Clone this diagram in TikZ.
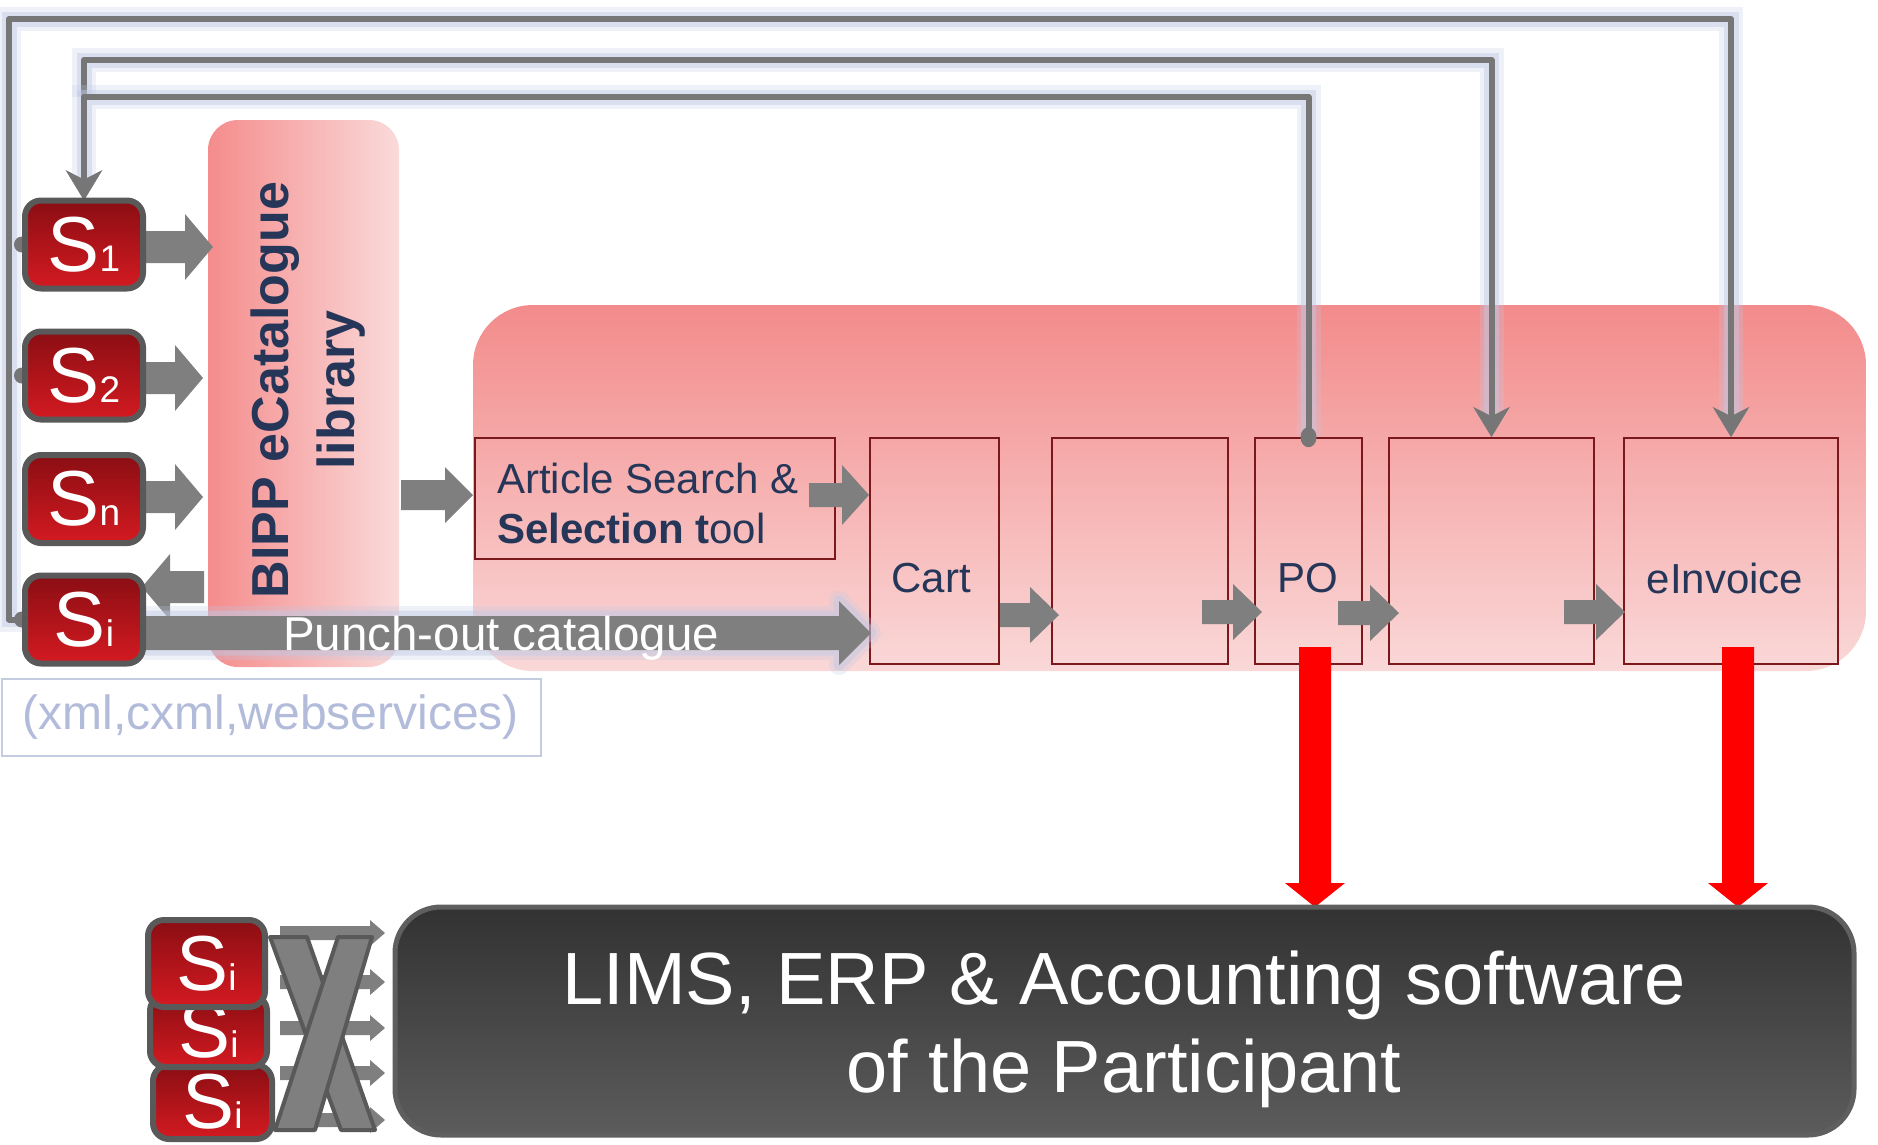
\documentclass[tikz,border=0pt]{standalone}
\usepackage{fontspec}
\setmainfont{Liberation Sans}
\usetikzlibrary{arrows.meta}
\definecolor{agray}{RGB}{127,127,127}
\definecolor{lgray}{RGB}{118,118,118}
\definecolor{xdark}{RGB}{89,89,89}
\definecolor{glow}{RGB}{190,201,228}
\definecolor{navy}{RGB}{37,54,89}
\definecolor{boxred}{RGB}{122,24,28}
\definecolor{ctop}{RGB}{243,139,139}
\definecolor{cbot}{RGB}{250,216,216}
\definecolor{lleft}{RGB}{245,140,140}
\definecolor{lright}{RGB}{250,218,218}
\definecolor{sredtop}{RGB}{138,14,19}
\definecolor{sredbot}{RGB}{212,26,33}
\definecolor{sborder}{RGB}{89,89,89}
\definecolor{dtop}{RGB}{50,50,50}
\definecolor{dbot}{RGB}{92,92,92}
\definecolor{dborder}{RGB}{95,95,95}
\definecolor{xmltext}{RGB}{178,188,218}
\definecolor{xmlborder}{RGB}{196,204,226}
\newcommand\Slab[1]{{\fontsize{78}{78}\selectfont S}{\fontsize{37}{37}\selectfont #1}}
\newcommand\barrow[7][]{\path[fill=agray,#1] ({#2},{#4-#5}) -- ({#3-(#7)},{#4-#5}) -- ({#3-(#7)},{#4-#6}) -- ({#3},{#4}) -- ({#3-(#7)},{#4+#6}) -- ({#3-(#7)},{#4+#5}) -- ({#2},{#4+#5}) -- cycle;}
\tikzset{
  sbox/.style={rectangle, rounded corners=16pt, draw=sborder, line width=6pt,
    top color=sredtop, bottom color=sredbot, minimum width=118pt, minimum height=88pt,
    inner sep=0pt, text=white},
  pbox/.style={rectangle, draw=boxred, line width=1.6pt, inner sep=0pt},
  lbl/.style={text=navy, font=\fontsize{42}{50}\selectfont, inner sep=0pt},
  conn/.style={draw=lgray, line width=6pt, line join=round,
    preaction={draw=glow, line width=24pt, opacity=.25},
    preaction={draw=glow, line width=15pt, opacity=.45}},
  tip/.style={-{Stealth[length=30pt,width=36pt,inset=9pt]}},
}
\begin{document}
\begin{tikzpicture}[x=1pt,y=-1pt]
\useasboundingbox (0,0) rectangle (1878,1144);
% container and library
\node[rectangle, rounded corners=60pt, top color=ctop, bottom color=cbot,
  minimum width=1393pt, minimum height=366pt, inner sep=0pt] (cont) at (1169.5,488) {};
\node[rectangle, rounded corners=30pt, left color=lleft, right color=lright,
  minimum width=191pt, minimum height=547pt, inner sep=0pt] (lib) at (303.5,393.5) {};
\node[rotate=90, text=navy, align=center, inner sep=0pt,
  font=\fontsize{52}{66}\selectfont\bfseries] (libtxt) at (308,390) {BIPP eCatalogue\\library};
% process boxes
\node[pbox, minimum width=360pt, minimum height=121pt] (art) at (655,498.5) {};
\node[pbox, minimum width=129pt, minimum height=226pt] (cart) at (934.5,551) {};
\node[pbox, minimum width=176pt, minimum height=226pt] (b3) at (1140,551) {};
\node[pbox, minimum width=107pt, minimum height=226pt] (po) at (1308.5,551) {};
\node[pbox, minimum width=205pt, minimum height=226pt] (b5) at (1491.5,551) {};
\node[pbox, minimum width=214pt, minimum height=226pt] (einv) at (1731,551) {};
\node[lbl, anchor=west, align=left] (arttxt) at (497,503) {Article Search \&\\\textbf{Selection t}ool};
\node[lbl] (carttxt) at (931,578) {Cart};
\node[lbl] (potxt) at (1308,578) {PO};
\node[lbl] (einvtxt) at (1725,578) {eInvoice};
% block arrows
\barrow{146}{213}{247}{16}{33}{28}
\barrow{146}{203}{378}{16}{33}{28}
\barrow{146}{203}{497}{16}{33}{28}
\barrow{204}{142}{587}{16}{33}{-28}
\barrow{401}{473}{495}{15}{28}{28}
\barrow{809}{869}{495}{12}{30}{27}
\barrow{1000}{1059}{615}{12}{28}{29}
\barrow{1202}{1262}{612}{12}{28}{29}
\barrow{1338}{1399}{613}{12}{28}{29}
\barrow{1564}{1625}{612}{12}{28}{29}
% punch-out
\barrow[preaction={draw=glow,line width=20pt,opacity=.25,line join=round},preaction={draw=glow,line width=11pt,opacity=.45,line join=round}]{146}{871}{633}{17}{32}{32}
\node[anchor=base west, text=white, inner sep=0pt, font=\fontsize{47.5}{47.5}\selectfont] (punch) at (283,650) {Punch-out catalogue};
% thin connectors
\draw[conn, tip] (84,97) -- (84,60) -| (b5.north);
\draw[conn, tip] (22,619.5) -- (9,619.5) -- (9,19) -| (einv.north);
\draw[conn, tip] (po.north) |- (84,97) -- (84,200.5);
% dots
\fill[lgray] (22,244.5) circle (8pt);
\fill[lgray] (22,375.5) circle (8pt);
\fill[lgray] (22,619.5) circle (8pt);
\fill[lgray] (po.north) ellipse (8pt and 10pt);
% S boxes
\node[sbox] (s1) at (84,244.5) {\Slab{1}};
\node[sbox] (s2) at (84,375.5) {\Slab{2}};
\node[sbox] (sn) at (84,499) {\Slab{n}};
\node[sbox] (si) at (84,619.5) {\Slab{i}};
% xml box
\node[draw=xmlborder, line width=2pt, minimum width=539pt, minimum height=77pt, inner sep=0pt,
  text=xmltext, font=\fontsize{48}{48}\selectfont] (xml) at (271,717) {(xml,cxml,webservices)};
% red arrows
\fill[red] (1299,647) -- (1331,647) -- (1331,883) -- (1345,883) -- (1315,907) -- (1285,883) -- (1299,883) -- cycle;
\fill[red] (1722,647) -- (1754,647) -- (1754,883) -- (1768,883) -- (1738,907) -- (1708,883) -- (1722,883) -- cycle;
% dark box
\node[rectangle, rounded corners=46pt, draw=dborder, line width=5pt, top color=dtop, bottom color=dbot,
  minimum width=1459pt, minimum height=228pt, inner sep=0pt] (lims) at (1124.5,1021) {};
\node[text=white, align=center, inner sep=0pt, font=\fontsize{74}{88}\selectfont] (limstxt) at (1124,1029)
  {LIMS, ERP \& Accounting software\\of the Participant};
% stack
\barrow{280}{385}{933}{7}{13}{15}
\barrow{280}{385}{982}{7}{13}{15}
\barrow{280}{385}{1028}{7}{13}{15}
\barrow{280}{385}{1073}{7}{13}{15}
\barrow{280}{385}{1120}{7}{13}{15}
\filldraw[fill=agray, draw=xdark, line width=4pt, line join=round] (270,937) -- (307,937) -- (375,1130) -- (341,1130) -- cycle;
\filldraw[fill=agray, draw=xdark, line width=4pt, line join=round] (338,937) -- (372,937) -- (315,1130) -- (275,1130) -- cycle;
\node[sbox, minimum width=119pt, minimum height=74pt] (sb3) at (212.5,1102) {\Slab{i}};
\node[sbox, minimum width=117pt, minimum height=72pt] (sb2) at (208.5,1031) {\Slab{i}};
\node[sbox, minimum width=117pt, minimum height=87pt] (sb1) at (206.5,963.5) {\Slab{i}};
\end{tikzpicture}
\end{document}
